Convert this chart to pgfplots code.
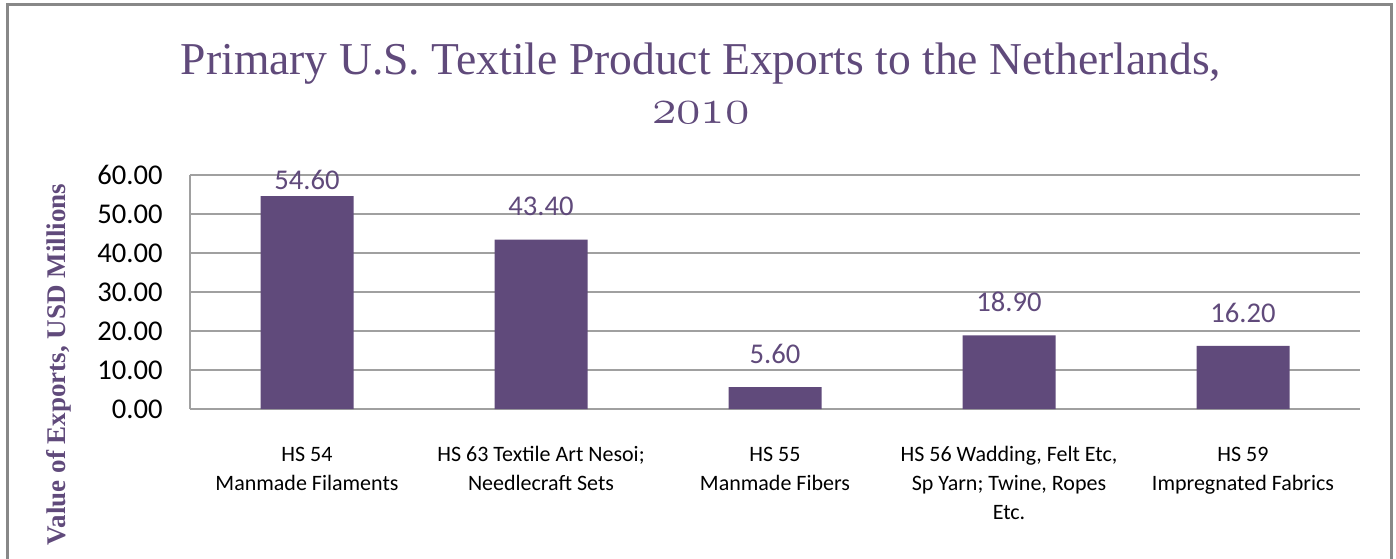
\documentclass[border=0pt]{standalone}
\usepackage{fontspec}
\setmainfont{Liberation Serif}
\newfontfamily\carlito{Carlito}
\usepackage{pgfplots}
\usepackage{pgfplotstable}
\pgfplotsset{compat=1.18}
\definecolor{barpurple}{HTML}{604A7B}
\definecolor{gridgray}{HTML}{A0A0A0}
\definecolor{framegray}{HTML}{888888}

\pgfplotstableread{
x y dy
0 54.6 8
1 43.4 16.5
2 5.6 16.5
3 18.9 16.5
4 16.2 16.5
}\exports

\begin{document}
\begin{tikzpicture}
\clip (0,0) rectangle (698pt,279pt);
\draw[framegray, line width=1.5pt] (3.75pt,-10pt) -- (3.75pt,276.5pt) -- (695.5pt,276.5pt) -- (695.5pt,-10pt);
\node[anchor=base, inner sep=0pt, font=\fontsize{22.8}{27}\selectfont, text=barpurple] at (350.5pt,241.5pt) {Primary U.S. Textile Product Exports to the Netherlands,};
\node[anchor=base, inner sep=0pt, font=\fontsize{23.5}{27}\selectfont, text=barpurple] at (350.5pt,217.25pt) {$\mathnormal{2010}$};
\node[rotate=90, inner sep=0pt, font=\bfseries\fontsize{13.5}{16}\selectfont, text=barpurple] at (29.5pt,96.75pt) {Value of Exports, USD Millions};
\begin{axis}[
  at={(95pt,74.5pt)}, anchor=south west,
  width=585pt, height=117pt, scale only axis,
  ybar, bar width=46.5pt,
  xmin=-0.5, xmax=4.5, ymin=0, ymax=60,
  ytick={0,10,...,60}, xtick={0,1,2,3,4},
  xticklabels={{\strut HS 54\\Manmade Filaments},{\strut HS 63 Textile Art Nesoi;\\Needlecraft Sets},{\strut HS 55\\Manmade Fibers},{\strut HS 56 Wadding, Felt Etc,\\Sp Yarn; Twine, Ropes\\Etc.},{\strut HS 59\\Impregnated Fabrics}},
  xticklabel style={align=center, anchor=north, inner sep=0pt, yshift=-15.85pt, font=\carlito\fontsize{11}{14.5}\selectfont, text=black},
  yticklabel style={anchor=east, inner sep=0pt, xshift=-13.5pt, font=\carlito\fontsize{14.3}{17}\selectfont, text=black},
  /pgf/number format/.cd, fixed, fixed zerofill, precision=2, assume math mode=true,
  /pgfplots/.cd,
  ymajorgrids, grid style={gridgray, line width=0.9pt},
  axis lines*=left, axis line style={-, gridgray, line width=0.9pt},
  major tick length=0pt,
  nodes near coords={\pgfmathprintnumber[fixed, fixed zerofill, precision=2, assume math mode=true]{\pgfplotspointmeta}},
  visualization depends on={\thisrow{dy} \as \dy},
  every node near coord/.append style={anchor=center, yshift=\dy pt, inner sep=0pt, font=\carlito\fontsize{14.3}{17}\selectfont, text=barpurple},
]
\addplot[fill=barpurple, draw=none] table[x=x, y=y, meta=y]{\exports};
\end{axis}
\end{tikzpicture}
\end{document}
